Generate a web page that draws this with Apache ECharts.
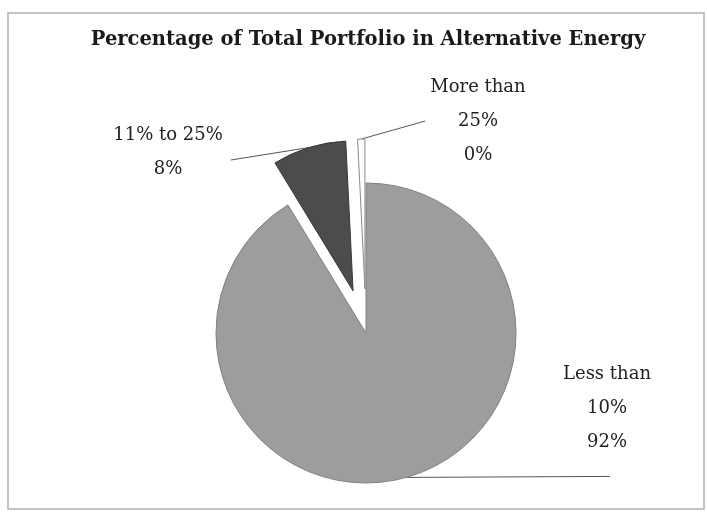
<!DOCTYPE html>
<html>
<head>
<meta charset="utf-8">
<script src="https://cdn.jsdelivr.net/npm/echarts@6/dist/echarts.min.js"></script>
<style>
html,body{margin:0;padding:0;background:#fff;}
#chart{width:707px;height:512px;}
</style>
</head>
<body>
<div id="chart"></div>
<script>
// Data
var title = 'Percentage of Total Portfolio in Alternative Energy';
var categories = ['Less than\n10%', '11% to 25%', 'More than\n25%'];
var values = [92, 8, 0];
var exploded = [false, true, true];

var colors = ['#9d9d9d', '#4c4c4c', '#ffffff'];
var borderColors = ['#808080', '#3a3a3a', '#8a8a8a'];

// label placement (offsets of label centre from pie centre)
var labelOffsets = [[241, 75], [-198, -181], [112, -212]];

var chart = echarts.init(document.getElementById('chart'), null, {renderer: 'canvas'});
var center = [366, 333];
var radius = 150;
var explodeDist = 44;
var minAngleDeg = 2.8;

// replicate the pie's angle layout (with minAngle) to find each slice's mid angle
function midAngles() {
  var sum = values.reduce(function (a, b) { return a + b; }, 0);
  var minA = minAngleDeg * Math.PI / 180;
  var unit = 2 * Math.PI / sum;
  var rest = 2 * Math.PI, bigSum = 0;
  var isMin = values.map(function (v) {
    if (v * unit < minA) { rest -= minA; return true; }
    bigSum += v; return false;
  });
  var u2 = rest / bigSum;
  var cur = -Math.PI / 2, mids = [];
  values.forEach(function (v, i) {
    var a = isMin[i] ? minA : v * u2;
    mids.push(cur + a / 2);
    cur += a;
  });
  return mids;
}
var mids = midAngles();

function makeSeries(k) {
  var off = exploded[k] ? explodeDist : 0;
  var c = [center[0] + Math.cos(mids[k]) * off, center[1] + Math.sin(mids[k]) * off];
  var data = categories.map(function (name, j) {
    if (j === k) {
      return {name: name, value: values[j],
        itemStyle: {color: colors[j], borderColor: borderColors[j], borderWidth: 1}};
    }
    return {name: name, value: values[j],
      itemStyle: {color: 'rgba(0,0,0,0)', borderWidth: 0},
      label: {show: false}, labelLine: {show: false}};
  });
  return {
    type: 'pie',
    center: c,
    radius: [0, radius],
    startAngle: 90,
    clockwise: true,
    minAngle: minAngleDeg,
    avoidLabelOverlap: false,
    silent: true,
    emphasis: {disabled: true},
    data: data,
    label: {
      show: true,
      formatter: function (p) { return p.name + '\n' + p.value + '%'; },
      fontFamily: 'DejaVu Serif',
      fontSize: 18,
      color: '#222',
      lineHeight: 34,
      align: 'center'
    },
    labelLine: {
      show: true,
      lineStyle: {color: '#555', width: 1}
    },
    labelLayout: function (params) {
      var i = params.dataIndex;
      var x = center[0] + labelOffsets[i][0];
      var y = center[1] + labelOffsets[i][1];
      var w = params.labelRect.width, h = params.labelRect.height;
      var pts = params.labelLinePoints;
      var start = pts ? pts[0] : [x, y];
      var end;
      if (i === 0) end = [x + 3, start[1] - 1];
      else if (i === 1) end = [x + w / 2 + 8, y + 8];
      else end = [x - w / 2 - 5, y];
      return {
        x: x, y: y, align: 'center', verticalAlign: 'middle',
        labelLinePoints: [start, end, end]
      };
    }
  };
}

var option = {
  animation: false,
  backgroundColor: '#ffffff',
  title: {
    text: title,
    left: 363,
    top: 25,
    textAlign: 'center',
    textStyle: {fontFamily: 'DejaVu Serif', fontWeight: 'bold', fontSize: 19.5, color: '#1a1a1a'}
  },
  graphic: [{
    type: 'rect',
    shape: {x: 8, y: 13, width: 696, height: 496},
    style: {fill: 'none', stroke: '#b0b0b0', lineWidth: 1.5},
    silent: true,
    z: -1
  }],
  series: [makeSeries(0), makeSeries(1), makeSeries(2)]
};
chart.setOption(option);
</script>
</body>
</html>
